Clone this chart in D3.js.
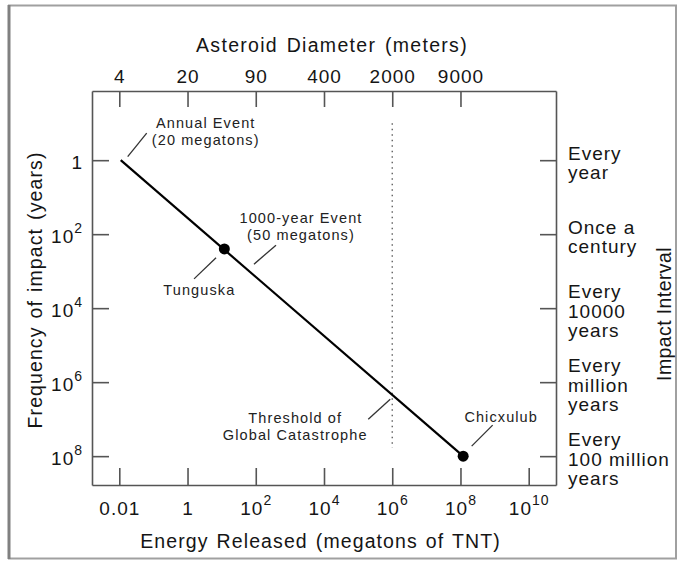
<!DOCTYPE html>
<html>
<head>
<meta charset="utf-8">
<script src="https://cdn.jsdelivr.net/npm/d3@7"></script>
<style>
  body { margin: 0; background: #fff; }
  svg { display: block; }
</style>
</head>
<body>
<div id="chart"></div>
<script>
// energy released (megatons of TNT), bottom axis
var energyTicks = [1e-2, 1, 1e2, 1e4, 1e6, 1e8, 1e10];
var energyLabels = [["0.01", ""], ["1", ""], ["10", "2"], ["10", "4"], ["10", "6"], ["10", "8"], ["10", "10"]];

// asteroid diameter (meters) shown at these energies, top axis
var diameterEnergy = [1e-2, 1, 1e2, 1e4, 1e6, 1e8];
var diameterLabels = ["4", "20", "90", "400", "2000", "9000"];

// frequency of impact (years), left and right axes
var yearTicks = [1, 1e2, 1e4, 1e6, 1e8];
var yearLabels = [["1", ""], ["10", "2"], ["10", "4"], ["10", "6"], ["10", "8"]];
var intervalLabels = [
  ["Every", "year"],
  ["Once a", "century"],
  ["Every", "10000", "years"],
  ["Every", "million", "years"],
  ["Every", "100 million", "years"]
];

// the impact line
var lineEnergy = [0.011, 1.2e8];
var lineYears = [1, 1e8];

// known impacts (dots)
var eventNames = ["Tunguska", "Chicxulub"];
var eventEnergy = [12, 1.2e8];
var eventYears = [250, 1e8];

// threshold of global catastrophe (dotted)
var thresholdEnergy = 1e6;
var thresholdYears = [0.1, 6e7];

// annotations and the point each one refers to
var noteText = [
  ["Annual Event", "(20 megatons)"],
  ["1000-year Event", "(50 megatons)"],
  ["Tunguska"],
  ["Threshold of", "Global Catastrophe"],
  ["Chicxulub"]
];
var noteEnergy = [0.011, 50, 12, 1e6, 1.2e8];
var noteYears = [1, 1000, 250, 2e6, 1e8];

var svgWidth = 680;
var svgHeight = 567;

var margin = { top: 91, right: 124, bottom: 82, left: 92 };
var width = svgWidth - margin.left - margin.right;
var height = svgHeight - margin.top - margin.bottom;

// pixel offsets of each note's text / leader from its point
var noteLayout = [
  { tx: 85, ty: -32, x1: 7, y1: -3.5, x2: 26, y2: -27 },
  { tx: 55.5, ty: -48, x1: 8.5, y1: -7, x2: 30.5, y2: -26 },
  { tx: -25, ty: 46, x1: -8.3, y1: 8.8, x2: -30.3, y2: 30 },
  { tx: -97, ty: 30, x1: -24, y1: 26, x2: -2, y2: 6 },
  { tx: 38, ty: -34, x1: 8.5, y1: -10, x2: 29.5, y2: -31 }
];

var font = "'Liberation Sans', Arial, Helvetica, sans-serif";

var svg = d3.select("#chart")
  .append("svg")
  .attr("width", svgWidth)
  .attr("height", svgHeight);

// outer frame
svg.append("rect")
  .attr("x", 9)
  .attr("y", 5.5)
  .attr("width", 667)
  .attr("height", 553)
  .attr("fill", "none")
  .attr("stroke", "#a0a0a0")
  .attr("stroke-width", 2);

svg.append("line")
  .attr("x1", 9)
  .attr("x2", 9)
  .attr("y1", 5)
  .attr("y2", 559)
  .attr("stroke", "#808080")
  .attr("stroke-width", 3);

var chartGroup = svg.append("g")
  .attr("transform", `translate(${margin.left}, ${margin.top})`);

var xScale = d3.scaleLog()
  .domain([Math.pow(10, -2.8), Math.pow(10, 10.8)])
  .range([0, width]);

var yScale = d3.scaleLog()
  .domain([Math.pow(10, -1.87), Math.pow(10, 8.78)])
  .range([0, height]);

function styleAxis(g) {
  g.selectAll("path, line")
    .attr("stroke", "#555")
    .attr("stroke-width", 1.6);
  g.selectAll("text")
    .attr("font-family", font)
    .attr("font-size", 19)
    .attr("letter-spacing", 1)
    .attr("fill", "#151515");
}

// put superscripts on the power-of-ten labels
function powerLabels(g, ticks, labels) {
  g.selectAll(".tick text").each(function(d) {
    var i = ticks.indexOf(d);
    var t = d3.select(this).text(null);
    t.append("tspan").text(labels[i][0]);
    if (labels[i][1]) {
      t.append("tspan")
        .attr("dy", -10)
        .attr("font-size", 14)
        .text(labels[i][1]);
    }
  });
}

// bottom axis
var bottomAxis = d3.axisBottom(xScale)
  .tickValues(energyTicks)
  .tickSizeInner(-17)
  .tickSizeOuter(0)
  .tickPadding(17);

var xAxis = chartGroup.append("g")
  .attr("transform", `translate(0, ${height})`)
  .call(bottomAxis);
styleAxis(xAxis);
powerLabels(xAxis, energyTicks, energyLabels);

// top axis
var topAxis = d3.axisTop(xScale)
  .tickValues(diameterEnergy)
  .tickFormat((d, i) => diameterLabels[i])
  .tickSizeInner(-16)
  .tickSizeOuter(0)
  .tickPadding(8);

var x2Axis = chartGroup.append("g")
  .call(topAxis);
styleAxis(x2Axis);

// left axis
var leftAxis = d3.axisLeft(yScale)
  .tickValues(yearTicks)
  .tickSizeInner(-17)
  .tickSizeOuter(0)
  .tickPadding(9);

var yAxis = chartGroup.append("g")
  .call(leftAxis);
styleAxis(yAxis);
yAxis.selectAll(".tick text").attr("dy", "0.42em");
powerLabels(yAxis, yearTicks, yearLabels);

// right axis with the impact intervals
var rightAxis = d3.axisRight(yScale)
  .tickValues(yearTicks)
  .tickFormat("")
  .tickSizeInner(-16)
  .tickSizeOuter(0)
  .tickPadding(12);

var y2Axis = chartGroup.append("g")
  .attr("transform", `translate(${width}, 0)`)
  .call(rightAxis);
styleAxis(y2Axis);

y2Axis.selectAll(".tick text").each(function(d) {
  var lines = intervalLabels[yearTicks.indexOf(d)];
  var t = d3.select(this).attr("dy", null);
  var tx = t.attr("x");
  lines.forEach(function(s, j) {
    t.append("tspan")
      .attr("x", tx)
      .attr("dy", j === 0 ? 9 - (lines.length - 1) * 9.75 : 19.5)
      .text(s);
  });
});

// axis titles
svg.append("text")
  .attr("x", 332)
  .attr("y", 52)
  .attr("text-anchor", "middle")
  .attr("font-family", font)
  .attr("font-size", 19.5)
  .attr("letter-spacing", 1.3)
  .attr("word-spacing", 2)
  .attr("fill", "#151515")
  .text("Asteroid Diameter (meters)");

svg.append("text")
  .attr("x", 320.5)
  .attr("y", 548)
  .attr("text-anchor", "middle")
  .attr("font-family", font)
  .attr("font-size", 19.5)
  .attr("letter-spacing", 1.1)
  .attr("word-spacing", 1.5)
  .attr("fill", "#151515")
  .text("Energy Released (megatons of TNT)");

svg.append("text")
  .attr("transform", "translate(42, 290) rotate(-90)")
  .attr("text-anchor", "middle")
  .attr("font-family", font)
  .attr("font-size", 19.5)
  .attr("letter-spacing", 1.1)
  .attr("word-spacing", 1.5)
  .attr("fill", "#151515")
  .text("Frequency of impact (years)");

svg.append("text")
  .attr("transform", "translate(670.5, 314) rotate(-90)")
  .attr("text-anchor", "middle")
  .attr("font-family", font)
  .attr("font-size", 19.5)
  .attr("letter-spacing", 0.4)
  .attr("fill", "#151515")
  .text("Impact Interval");

// threshold line
chartGroup.append("line")
  .attr("x1", xScale(thresholdEnergy))
  .attr("x2", xScale(thresholdEnergy))
  .attr("y1", yScale(thresholdYears[0]))
  .attr("y2", yScale(thresholdYears[1]))
  .attr("stroke", "#555")
  .attr("stroke-width", 1.3)
  .attr("stroke-dasharray", "1.5,4");

// impact line
var lineData = lineEnergy.map((e, i) => [e, lineYears[i]]);
chartGroup.append("path")
  .datum(lineData)
  .attr("d", d3.line().x(d => xScale(d[0])).y(d => yScale(d[1])))
  .attr("fill", "none")
  .attr("stroke", "#000")
  .attr("stroke-width", 2.2);

// event dots
chartGroup.append("g")
  .selectAll("circle")
  .data(eventNames)
  .enter()
  .append("circle")
  .attr("cx", (d, i) => xScale(eventEnergy[i]))
  .attr("cy", (d, i) => yScale(eventYears[i]))
  .attr("r", 5.5)
  .attr("fill", "#000");

// annotations
var notes = chartGroup.append("g");
noteText.forEach(function(lines, i) {
  var px = xScale(noteEnergy[i]);
  var py = yScale(noteYears[i]);
  var lay = noteLayout[i];

  notes.append("line")
    .attr("x1", px + lay.x1)
    .attr("y1", py + lay.y1)
    .attr("x2", px + lay.x2)
    .attr("y2", py + lay.y2)
    .attr("stroke", "#333")
    .attr("stroke-width", 1.3);

  var t = notes.append("text")
    .attr("text-anchor", "middle")
    .attr("font-family", font)
    .attr("font-size", 14.5)
    .attr("letter-spacing", 1.1)
    .attr("fill", "#222");
  lines.forEach(function(s, j) {
    t.append("tspan")
      .attr("x", px + lay.tx)
      .attr("y", py + lay.ty + j * 16.7)
      .text(s);
  });
});
</script>
</body>
</html>
